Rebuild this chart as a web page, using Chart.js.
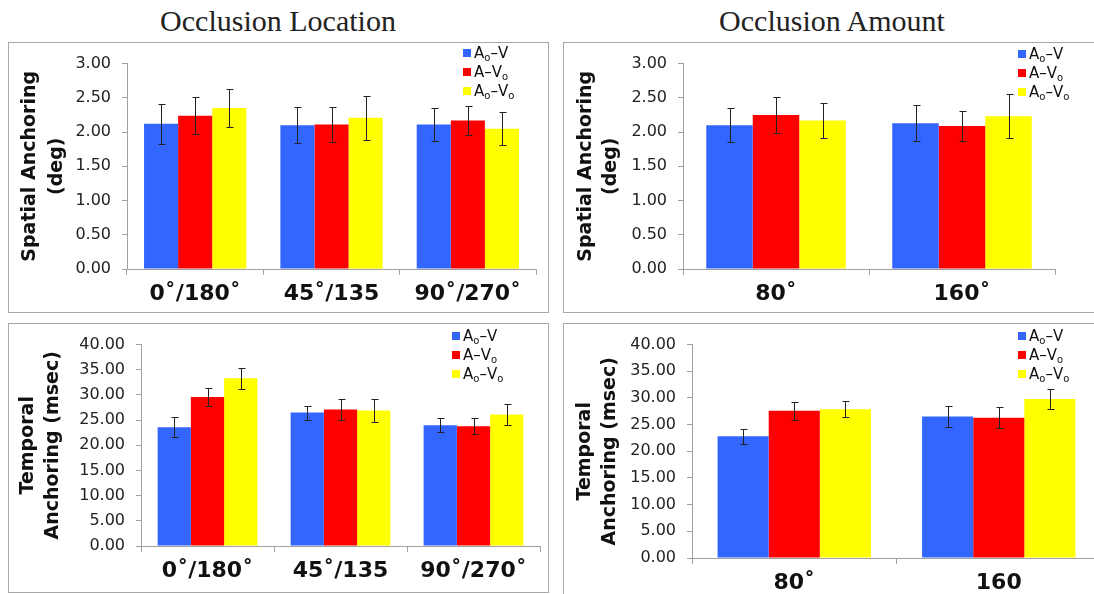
<!DOCTYPE html>
<html>
<head>
<meta charset="utf-8">
<script src="https://cdn.jsdelivr.net/npm/chart.js@4.4.1/dist/chart.umd.min.js"></script>
<style>
  html, body { margin:0; padding:0; background:#fff; width:1094px; height:594px; overflow:hidden; }
  .panel { position:absolute; border:1px solid #a8a8a8; box-sizing:border-box; }
  .head { position:absolute; font-family:"Liberation Serif", serif; font-size:30px; color:#222; transform:translate(-50%,-50%); white-space:nowrap; }
  canvas { position:absolute; }
  .legend { position:absolute; font-family:"DejaVu Sans", sans-serif; font-size:15px; color:#111; line-height:19px; }
  .legend div { position:relative; height:19px; white-space:nowrap; }
  .legend span.sw { display:inline-block; width:8px; height:8px; margin-right:3px; vertical-align:1px; }
  .legend sub { font-size:10px; vertical-align:-3px; line-height:0; }
</style>
</head>
<body>
<div class="head" style="left:278px; top:21px;">Occlusion Location</div>
<div class="head" style="left:832px; top:21px;">Occlusion Amount</div>

<div class="panel" style="left:8px; top:42px; width:541px; height:271px;"></div>
<div class="panel" style="left:563px; top:42px; width:560px; height:271px;"></div>
<div class="panel" style="left:8px; top:323px; width:541px; height:270px;"></div>
<div class="panel" style="left:563px; top:323px; width:560px; height:300px;"></div>

<canvas id="c1" style="left:9px; top:43px;" width="539" height="268"></canvas>
<canvas id="c2" style="left:564px; top:43px;" width="530" height="268"></canvas>
<canvas id="c3" style="left:9px; top:324px;" width="539" height="267"></canvas>
<canvas id="c4" style="left:564px; top:324px;" width="560" height="280"></canvas>

<div class="legend" style="left:463px; top:44px;">
  <div><span class="sw" style="background:#3366ff"></span>A<sub>o</sub>–V</div>
  <div><span class="sw" style="background:#ff0000"></span>A–V<sub>o</sub></div>
  <div><span class="sw" style="background:#ffff00"></span>A<sub>o</sub>–V<sub>o</sub></div>
</div>
<div class="legend" style="left:1018px; top:45px;">
  <div><span class="sw" style="background:#3366ff"></span>A<sub>o</sub>–V</div>
  <div><span class="sw" style="background:#ff0000"></span>A–V<sub>o</sub></div>
  <div><span class="sw" style="background:#ffff00"></span>A<sub>o</sub>–V<sub>o</sub></div>
</div>
<div class="legend" style="left:452px; top:327px;">
  <div><span class="sw" style="background:#3366ff"></span>A<sub>o</sub>–V</div>
  <div><span class="sw" style="background:#ff0000"></span>A–V<sub>o</sub></div>
  <div><span class="sw" style="background:#ffff00"></span>A<sub>o</sub>–V<sub>o</sub></div>
</div>
<div class="legend" style="left:1018px; top:327px;">
  <div><span class="sw" style="background:#3366ff"></span>A<sub>o</sub>–V</div>
  <div><span class="sw" style="background:#ff0000"></span>A–V<sub>o</sub></div>
  <div><span class="sw" style="background:#ffff00"></span>A<sub>o</sub>–V<sub>o</sub></div>
</div>

<script>
// ---------- data ----------
const locationCategories = ["0˚/180˚", "45˚/135", "90˚/270˚"];
const amountCategoriesTop = ["80˚", "160˚"];
const amountCategoriesBottom = ["80˚", "160"];
const seriesNames = ["Ao–V", "A–Vo", "Ao–Vo"];

const spatialLocAoV  = [2.12, 2.10, 2.11];
const spatialLocAVo  = [2.24, 2.11, 2.17];
const spatialLocAoVo = [2.35, 2.21, 2.05];
const spatialLocAoVErr  = [0.29, 0.26, 0.24];
const spatialLocAVoErr  = [0.27, 0.26, 0.21];
const spatialLocAoVoErr = [0.28, 0.32, 0.24];

const spatialAmtAoV  = [2.10, 2.13];
const spatialAmtAVo  = [2.25, 2.09];
const spatialAmtAoVo = [2.17, 2.23];
const spatialAmtAoVErr  = [0.25, 0.26];
const spatialAmtAVoErr  = [0.265, 0.22];
const spatialAmtAoVoErr = [0.25, 0.32];

const temporalLocAoV  = [23.6, 26.5, 24.0];
const temporalLocAVo  = [29.6, 27.1, 23.8];
const temporalLocAoVo = [33.3, 26.9, 26.1];
const temporalLocAoVErr  = [2.0, 1.4, 1.45];
const temporalLocAVoErr  = [1.75, 2.1, 1.55];
const temporalLocAoVoErr = [2.15, 2.2, 2.1];

const temporalAmtAoV  = [22.8, 26.5];
const temporalAmtAVo  = [27.6, 26.3];
const temporalAmtAoVo = [27.9, 29.8];
const temporalAmtAoVErr  = [1.45, 1.95];
const temporalAmtAVoErr  = [1.7, 1.95];
const temporalAmtAoVoErr = [1.55, 1.8];

const spatialTicksMax = 3, spatialStep = 0.5;
const temporalTicksMax = 40, temporalStep = 5;

// ---------- styling ----------
const colors = ["#3366ff", "#ff0000", "#ffff00"];
const axisGray = "#a0a0a0";

const errorBarPlugin = {
  id: "errorBars",
  afterDatasetsDraw(chart) {
    const ctx = chart.ctx;
    const yScale = chart.scales.y;
    ctx.save();
    ctx.strokeStyle = "#222";
    ctx.lineWidth = 1;
    chart.data.datasets.forEach((ds, i) => {
      const meta = chart.getDatasetMeta(i);
      meta.data.forEach((bar, j) => {
        const v = ds.data[j], e = ds.errors[j];
        const x = Math.round(bar.x) + 0.5;
        const yt = Math.round(yScale.getPixelForValue(v + e)) + 0.5;
        const yb = Math.round(yScale.getPixelForValue(v - e)) + 0.5;
        ctx.beginPath();
        ctx.moveTo(x, yt); ctx.lineTo(x, yb);
        ctx.moveTo(x - 3, yt); ctx.lineTo(x + 4, yt);
        ctx.moveTo(x - 3, yb); ctx.lineTo(x + 4, yb);
        ctx.stroke();
      });
    });
    ctx.restore();
  }
};

function makeChart(id, cats, vals, errs, yMax, step, titleLines, geo) {
  new Chart(document.getElementById(id), {
    type: "bar",
    data: {
      labels: cats,
      datasets: vals.map((v, i) => ({
        label: seriesNames[i],
        data: v,
        errors: errs[i],
        backgroundColor: colors[i],
        borderWidth: 0,
        categoryPercentage: 0.75,
        barPercentage: 1.0
      }))
    },
    options: {
      responsive: false,
      animation: false,
      devicePixelRatio: 1,
      layout: { padding: { top: geo.top, right: geo.right, bottom: 0, left: 0 } },
      plugins: { legend: { display: false }, tooltip: { enabled: false } },
      scales: {
        x: {
          afterFit: s => { s.height = geo.xh; },
          grid: { display: true, drawOnChartArea: false, drawTicks: true, tickLength: 6, color: axisGray, offset: true },
          border: { color: axisGray },
          ticks: { font: { family: "DejaVu Sans", weight: "bold", size: 22 }, color: "#111", padding: 6, maxRotation: 0, autoSkip: false }
        },
        y: {
          min: 0, max: yMax,
          afterFit: s => { s.width = geo.yw; },
          grid: { display: true, drawOnChartArea: false, tickLength: 5, color: axisGray },
          border: { color: axisGray },
          ticks: { stepSize: step, callback: v => Number(v).toFixed(2), font: { family: "DejaVu Sans", size: 16 }, color: "#222", padding: 11 },
          title: { display: true, text: titleLines, color: "#111",
                   font: { family: "DejaVu Sans", weight: "bold", size: 19, lineHeight: geo.lh },
                   padding: { top: geo.tp, bottom: 0 } }
        }
      }
    },
    plugins: [errorBarPlugin]
  });
}

makeChart("c1", locationCategories,
  [spatialLocAoV, spatialLocAVo, spatialLocAoVo],
  [spatialLocAoVErr, spatialLocAVoErr, spatialLocAoVoErr],
  spatialTicksMax, spatialStep, ["Spatial Anchoring", "(deg)"],
  { top: 18, right: 12, xh: 42, yw: 118, tp: 8, lh: 1.4 });

makeChart("c2", amountCategoriesTop,
  [spatialAmtAoV, spatialAmtAVo, spatialAmtAoVo],
  [spatialAmtAoVErr, spatialAmtAVoErr, spatialAmtAoVoErr],
  spatialTicksMax, spatialStep, ["Spatial Anchoring", "(deg)"],
  { top: 16, right: 39, xh: 42, yw: 119, tp: 10, lh: 1.3 });

makeChart("c3", locationCategories,
  [temporalLocAoV, temporalLocAVo, temporalLocAoVo],
  [temporalLocAoVErr, temporalLocAVoErr, temporalLocAoVoErr],
  temporalTicksMax, temporalStep, ["Temporal", "Anchoring (msec)"],
  { top: 17, right: 8, xh: 45, yw: 132, tp: 7, lh: 1.3 });

makeChart("c4", amountCategoriesBottom,
  [temporalAmtAoV, temporalAmtAVo, temporalAmtAoVo],
  [temporalAmtAoVErr, temporalAmtAVoErr, temporalAmtAoVoErr],
  temporalTicksMax, temporalStep, ["Temporal", "Anchoring (msec)"],
  { top: 17, right: 23, xh: 46, yw: 128, tp: 9, lh: 1.3 });
</script>
</body>
</html>
